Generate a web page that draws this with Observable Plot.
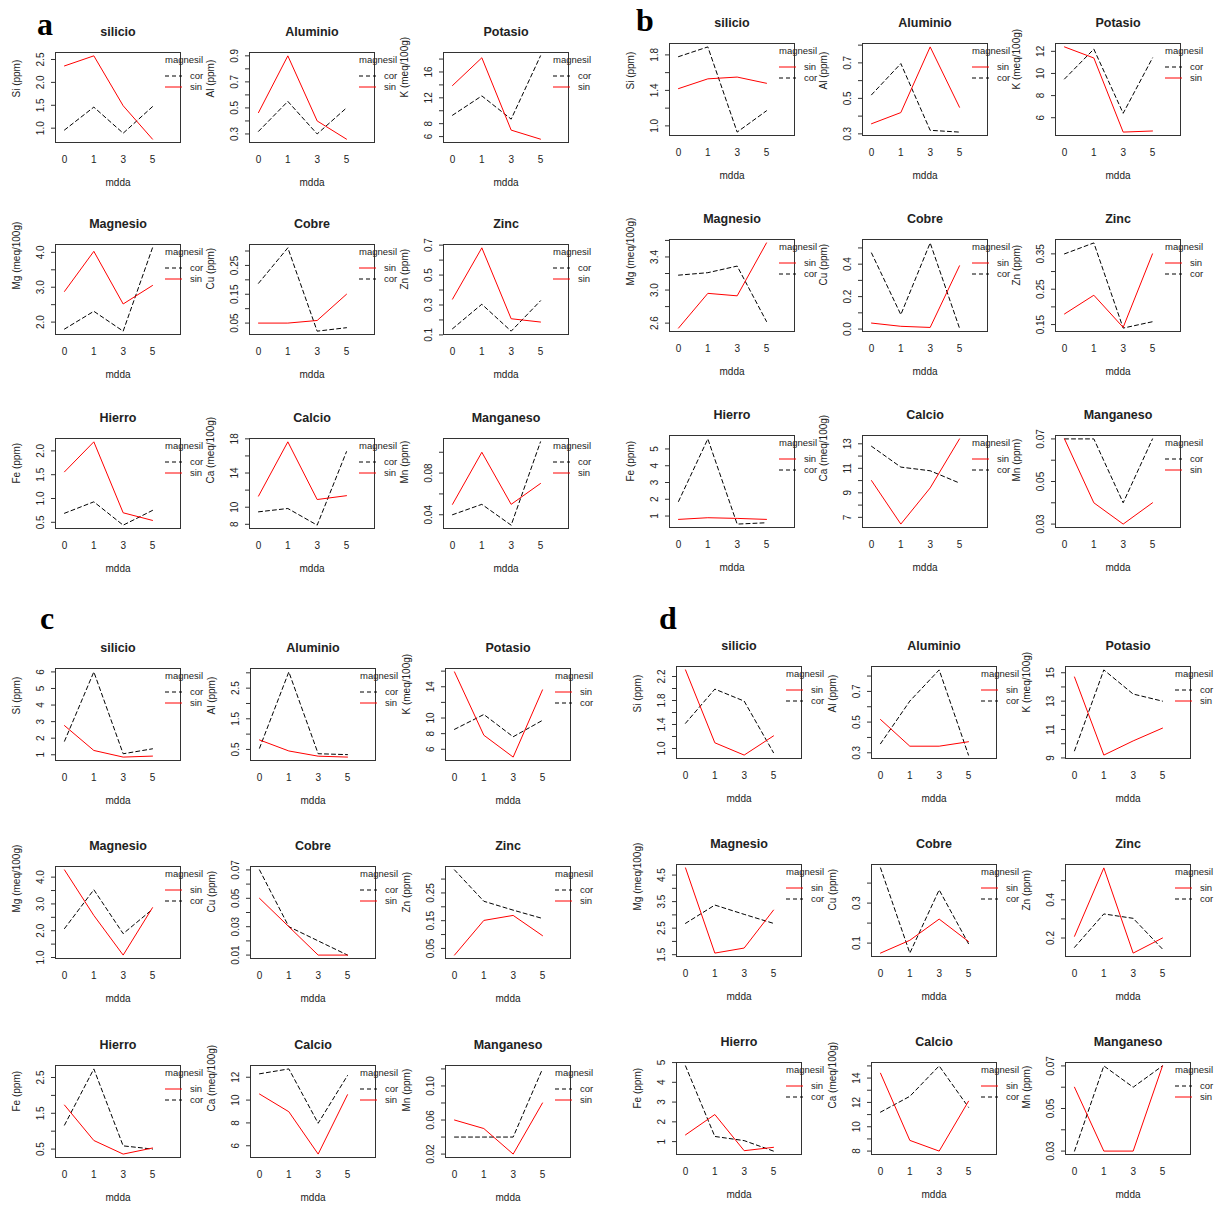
<!DOCTYPE html>
<html><head><meta charset="utf-8">
<script src="https://cdn.jsdelivr.net/npm/d3@7"></script>
<script src="https://cdn.jsdelivr.net/npm/@observablehq/plot@0.6"></script>
<style>
html,body{margin:0;padding:0;background:#fff;}
#wrap{position:relative;width:1215px;height:1205px;overflow:hidden;background:#fff;}
#wrap svg.sub{position:absolute;}
</style></head><body><div id="wrap"></div>
<script>
// ---------- data ----------
const mdda = ["0", "1", "3", "5"];
const panelLetters = ["a", "b", "c", "d"];
const elements = ["silicio", "Aluminio", "Potasio", "Magnesio", "Cobre", "Zinc", "Hierro", "Calcio", "Manganeso"];
const yAxisLabels = ["Si (ppm)", "Al (ppm)", "K (meq/100g)", "Mg (meq/100g)", "Cu (ppm)", "Zn (ppm)", "Fe (ppm)", "Ca (meq/100g)", "Mn (ppm)"];
const seriesNames = ["cor", "sin"];
const legendTitle = "magnesil";
const xTitle = "mdda";

// panel a
const corA = [
  [0.96, 1.46, 0.89, 1.47],
  [0.32, 0.55, 0.30, 0.50],
  [9.3, 12.3, 8.7, 18.5],
  [1.80, 2.31, 1.74, 4.13],
  [0.188, 0.311, 0.022, 0.034],
  [0.141, 0.305, 0.125, 0.328],
  [0.69, 0.93, 0.44, 0.75],
  [9.46, 9.85, 7.9, 16.5],
  [0.04, 0.05, 0.03, 0.11]
];
const sinA = [
  [2.36, 2.58, 1.49, 0.76],
  [0.464, 0.90, 0.40, 0.26],
  [13.9, 18.2, 7.0, 5.6],
  [2.88, 4.03, 2.52, 3.05],
  [0.05, 0.05, 0.059, 0.15],
  [0.339, 0.682, 0.208, 0.186],
  [1.56, 2.19, 0.70, 0.54],
  [11.3, 17.65, 10.9, 11.35],
  [0.05, 0.10, 0.05, 0.07]
];
const ticksA = [
  [1.0, 1.5, 2.0, 2.5],
  [0.3, 0.4, 0.5, 0.6, 0.7, 0.8, 0.9],
  [6, 8, 10, 12, 14, 16, 18],
  [2.0, 2.5, 3.0, 3.5, 4.0],
  [0.05, 0.10, 0.15, 0.20, 0.25, 0.30],
  [0.1, 0.2, 0.3, 0.4, 0.5, 0.6, 0.7],
  [0.5, 1.0, 1.5, 2.0],
  [8, 10, 12, 14, 16, 18],
  [0.04, 0.06, 0.08, 0.10]
];
const tickLabelsA = [
  ["1.0", "1.5", "2.0", "2.5"],
  ["0.3", "", "0.5", "", "0.7", "", "0.9"],
  ["6", "8", "", "12", "", "16", ""],
  ["2.0", "", "3.0", "", "4.0"],
  ["0.05", "", "0.15", "", "0.25", ""],
  ["0.1", "", "0.3", "", "0.5", "", "0.7"],
  ["0.5", "1.0", "1.5", "2.0"],
  ["8", "10", "", "14", "", "18"],
  ["0.04", "", "0.08", ""]
];

// panel b
const corB = [
  [1.78, 1.89, 0.93, 1.17],
  [0.52, 0.696, 0.32, 0.31],
  [9.5, 12.2, 6.4, 11.4],
  [3.18, 3.21, 3.29, 2.62],
  [0.469, 0.089, 0.531, 0.006],
  [0.35, 0.381, 0.14, 0.158],
  [1.87, 5.6, 0.52, 0.6],
  [12.8, 11.1, 10.8, 9.8],
  [0.07, 0.07, 0.04, 0.07]
];
const sinB = [
  [1.42, 1.53, 1.55, 1.48],
  [0.357, 0.42, 0.79, 0.45],
  [12.4, 11.4, 4.7, 4.8],
  [2.54, 2.96, 2.93, 3.57],
  [0.037, 0.017, 0.010, 0.39],
  [0.18, 0.233, 0.142, 0.35],
  [0.8, 0.9, 0.86, 0.8],
  [10.0, 6.45, 9.4, 13.4],
  [0.07, 0.04, 0.03, 0.04]
];
const ticksB = [
  [1.0, 1.2, 1.4, 1.6, 1.8],
  [0.3, 0.4, 0.5, 0.6, 0.7, 0.8],
  [6, 8, 10, 12],
  [2.6, 2.8, 3.0, 3.2, 3.4, 3.6],
  [0.0, 0.1, 0.2, 0.3, 0.4, 0.5],
  [0.15, 0.20, 0.25, 0.30, 0.35],
  [1, 2, 3, 4, 5],
  [7, 8, 9, 10, 11, 12, 13],
  [0.03, 0.04, 0.05, 0.06, 0.07]
];
const tickLabelsB = [
  ["1.0", "", "1.4", "", "1.8"],
  ["0.3", "", "0.5", "", "0.7", ""],
  ["6", "8", "10", "12"],
  ["2.6", "", "3.0", "", "3.4", ""],
  ["0.0", "", "0.2", "", "0.4", ""],
  ["0.15", "", "0.25", "", "0.35"],
  ["1", "2", "3", "4", "5"],
  ["7", "", "9", "", "11", "", "13"],
  ["0.03", "", "0.05", "", "0.07"]
];

// panel c
const corC = [
  [1.82, 6.0, 1.06, 1.36],
  [0.54, 3.03, 0.36, 0.33],
  [8.55, 10.45, 7.6, 9.7],
  [2.08, 3.53, 1.89, 2.8],
  [0.07, 0.03, 0.02, 0.01],
  [0.333, 0.22, 0.188, 0.158],
  [1.17, 2.74, 0.59, 0.5],
  [12.3, 12.73, 7.97, 12.15],
  [0.04, 0.04, 0.04, 0.12]
];
const sinC = [
  [2.76, 1.26, 0.86, 0.92],
  [0.81, 0.45, 0.28, 0.25],
  [15.9, 7.8, 5.0, 13.6],
  [4.27, 2.57, 1.09, 2.86],
  [0.05, 0.03, 0.01, 0.01],
  [0.026, 0.151, 0.169, 0.096],
  [1.73, 0.74, 0.36, 0.53],
  [10.53, 8.98, 5.27, 10.47],
  [0.06, 0.05, 0.02, 0.08]
];
const ticksC = [
  [1, 2, 3, 4, 5, 6],
  [0.5, 1.0, 1.5, 2.0, 2.5, 3.0],
  [6, 8, 10, 12, 14, 16],
  [1.0, 1.5, 2.0, 2.5, 3.0, 3.5, 4.0],
  [0.01, 0.02, 0.03, 0.04, 0.05, 0.06, 0.07],
  [0.05, 0.10, 0.15, 0.20, 0.25, 0.30],
  [0.5, 1.0, 1.5, 2.0, 2.5],
  [6, 8, 10, 12],
  [0.02, 0.04, 0.06, 0.08, 0.10, 0.12]
];
const tickLabelsC = [
  ["1", "2", "3", "4", "5", "6"],
  ["0.5", "", "1.5", "", "2.5", ""],
  ["6", "8", "10", "", "14", ""],
  ["1.0", "", "2.0", "", "3.0", "", "4.0"],
  ["0.01", "", "0.03", "", "0.05", "", "0.07"],
  ["0.05", "", "0.15", "", "0.25", ""],
  ["0.5", "", "1.5", "", "2.5"],
  ["6", "8", "10", "12"],
  ["0.02", "", "0.06", "", "0.10", ""]
];

// panel d
const corD = [
  [1.42, 1.99, 1.79, 0.93],
  [0.359, 0.637, 0.84, 0.285],
  [9.5, 15.2, 13.5, 13.0],
  [2.68, 3.37, 3.02, 2.68],
  [0.476, 0.05, 0.366, 0.097],
  [0.151, 0.326, 0.303, 0.142],
  [4.83, 1.26, 1.05, 0.52],
  [11.2, 12.5, 15.0, 11.6],
  [0.03, 0.07, 0.06, 0.07]
];
const sinD = [
  [2.31, 1.095, 0.89, 1.21],
  [0.517, 0.343, 0.343, 0.372],
  [14.7, 9.2, 10.2, 11.1],
  [4.77, 1.56, 1.75, 3.18],
  [0.05, 0.114, 0.22, 0.108],
  [0.209, 0.567, 0.121, 0.2],
  [1.34, 2.37, 0.54, 0.71],
  [14.4, 8.88, 8.0, 12.1],
  [0.06, 0.03, 0.03, 0.07]
];
const ticksD = [
  [1.0, 1.2, 1.4, 1.6, 1.8, 2.0, 2.2],
  [0.3, 0.4, 0.5, 0.6, 0.7, 0.8],
  [9, 10, 11, 12, 13, 14, 15],
  [1.5, 2.0, 2.5, 3.0, 3.5, 4.0, 4.5],
  [0.1, 0.2, 0.3, 0.4],
  [0.2, 0.3, 0.4, 0.5],
  [1, 2, 3, 4, 5],
  [8, 9, 10, 11, 12, 13, 14, 15],
  [0.03, 0.04, 0.05, 0.06, 0.07]
];
const tickLabelsD = [
  ["1.0", "", "1.4", "", "1.8", "", "2.2"],
  ["0.3", "", "0.5", "", "0.7", ""],
  ["9", "", "11", "", "13", "", "15"],
  ["1.5", "", "2.5", "", "3.5", "", "4.5"],
  ["0.1", "", "0.3", ""],
  ["0.2", "", "0.4", ""],
  ["1", "2", "3", "4", "5"],
  ["8", "", "10", "", "12", "", "14", ""],
  ["0.03", "", "0.05", "", "0.07"]
];

// ---------- layout ----------
const FONT = "'Liberation Sans', Arial, Helvetica, sans-serif";
const TXT = "#222";
const RED = "#ff0000";
const BOX_W = 125;
const ML = 50, MT = 32, MB = 50, MR = 50;
const panels = [
  {cor: corA, sin: sinA, ticks: ticksA, labs: tickLabelsA, cols: [55, 249, 443], rows: [52, 244, 438], h: 90, letter: [45, 35]},
  {cor: corB, sin: sinB, ticks: ticksB, labs: tickLabelsB, cols: [669, 862, 1055], rows: [43, 239, 435], h: 92, letter: [645, 31]},
  {cor: corC, sin: sinC, ticks: ticksC, labs: tickLabelsC, cols: [55, 250, 445], rows: [668, 866, 1065], h: 92, letter: [47, 629]},
  {cor: corD, sin: sinD, ticks: ticksD, labs: tickLabelsD, cols: [676, 871, 1065], rows: [666, 864, 1062], h: 92, letter: [668, 629]}
];

function legendMark(order) {
  return (index, scales, values, dims) => {
    const xr = dims.width - dims.marginRight;
    const yt = dims.marginTop;
    const g = d3.create("svg:g").attr("font-family", FONT).attr("font-size", 9.5)
      .attr("fill", TXT).attr("text-anchor", "start");
    g.append("text").attr("x", xr - 15).attr("y", yt + 8).attr("dy", "0.35em")
      .attr("text-anchor", "start").text(legendTitle);
    order.forEach((s, k) => {
      const y = yt + 24 + 11 * k;
      const ln = g.append("line").attr("x1", xr - 15).attr("x2", xr + 2).attr("y1", y).attr("y2", y)
        .attr("stroke", s === "cor" ? "#000" : RED).attr("stroke-width", 1);
      if (s === "cor") ln.attr("stroke-dasharray", "4,3");
      g.append("text").attr("x", xr + 10).attr("y", y).attr("dy", "0.35em")
        .attr("text-anchor", "start").text(s);
    });
    return g.node();
  };
}

function subplot(title, ylab, cor, sin, ticks, labs, boxH) {
  const rows = mdda.flatMap((m, i) => [{i, s: "cor", v: cor[i]}, {i, s: "sin", v: sin[i]}]);
  const ext = d3.extent(rows, d => d.v);
  const pad = (ext[1] - ext[0]) * 0.04;
  const tickData = ticks.map((t, k) => ({t, lab: labs[k]}));
  const order = cor[3] >= sin[3] ? ["cor", "sin"] : ["sin", "cor"];
  const svg = Plot.plot({
    width: ML + BOX_W + MR, height: MT + boxH + MB,
    marginLeft: ML, marginRight: MR, marginTop: MT, marginBottom: MB,
    x: {domain: [-0.307, 3.955], axis: null},
    y: {domain: [ext[0] - pad, ext[1] + pad]},
    style: {background: "transparent", overflow: "visible", fontFamily: FONT, color: TXT},
    marks: [
      Plot.line(rows.filter(d => d.s === "cor"), {x: "i", y: "v", stroke: "#000", strokeWidth: 1, strokeDasharray: "4,3"}),
      Plot.line(rows.filter(d => d.s === "sin"), {x: "i", y: "v", stroke: RED, strokeWidth: 1}),
      Plot.frame({stroke: "#333", strokeWidth: 1}),
      Plot.axisY(ticks, {anchor: "left", tickSize: 4, tickFormat: () => "", label: null, stroke: "#333"}),
      Plot.text(tickData, {y: "t", text: "lab", frameAnchor: "left", rotate: -90, dx: -15, textAnchor: "middle", lineAnchor: "middle", fontSize: 10, fill: TXT}),
      Plot.text(mdda, {x: (d, i) => i, text: d => d, frameAnchor: "bottom", dy: 17, lineAnchor: "middle", fontSize: 10, fill: TXT}),
      Plot.text([xTitle], {text: d => d, frameAnchor: "bottom", dy: 40, lineAnchor: "middle", fontSize: 10, fill: TXT}),
      Plot.text([ylab], {text: d => d, frameAnchor: "left", dx: -39, rotate: -90, lineAnchor: "middle", fontSize: 10, fill: TXT}),
      Plot.text([title], {text: d => d, frameAnchor: "top", dy: -21, lineAnchor: "middle", fontSize: 12.5, fontWeight: "bold", fill: TXT}),
      legendMark(order)
    ]
  });
  svg.classList.add("sub");
  return svg;
}

const wrap = document.getElementById("wrap");
panels.forEach((p, pi) => {
  elements.forEach((el, k) => {
    const r = Math.floor(k / 3), c = k % 3;
    const svg = subplot(el, yAxisLabels[k], p.cor[k], p.sin[k], p.ticks[k], p.labs[k], p.h);
    svg.style.left = (p.cols[c] - ML) + "px";
    svg.style.top = (p.rows[r] - MT) + "px";
    svg.style.position = "absolute";
    wrap.appendChild(svg);
  });
});

// panel letters
const over = d3.select(wrap).append("svg")
  .attr("width", 1215).attr("height", 1205)
  .style("position", "absolute").style("left", "0px").style("top", "0px").style("pointer-events", "none");
panels.forEach((p, pi) => {
  over.append("text").attr("x", p.letter[0]).attr("y", p.letter[1])
    .attr("text-anchor", "middle").attr("font-family", "'Liberation Serif', 'DejaVu Serif', serif")
    .attr("font-weight", "bold").attr("font-size", 32).attr("fill", "#000")
    .text(panelLetters[pi]);
});
</script></body></html>
